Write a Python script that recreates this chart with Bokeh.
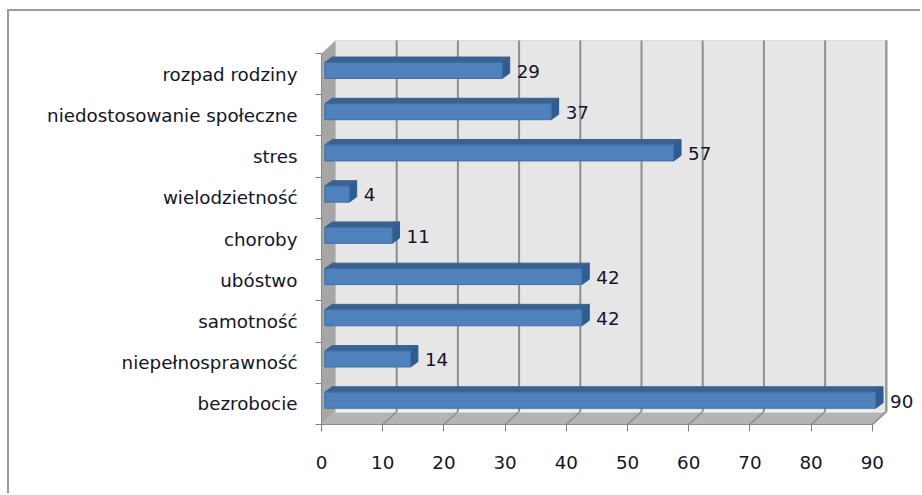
from bokeh.plotting import figure
from bokeh.embed import file_html
from bokeh.resources import INLINE
from bokeh.core.properties import value
from bokeh.models import Range1d, FixedTicker

categories = ["bezrobocie", "niepełnosprawność", "samotność", "ubóstwo", "choroby",
              "wielodzietność", "stres", "niedostosowanie społeczne", "rozpad rodziny"]
values = [90, 14, 42, 42, 11, 4, 57, 37, 29]
x_ticks = [0, 10, 20, 30, 40, 50, 60, 70, 80, 90]

FONT = "DejaVu Sans"
SIZE = "18.3px"
TEXT = "#14142a"
n = len(categories)
xmax = x_ticks[-1]
# 3D look, in data units
wx, wy = 14 / 6.12, 13 / 41.2      # wall depth
ox, oy = 0.55, 0.09                # bar front offset
bx, by = 1.2, 0.13                 # bar depth
bh = 0.39                          # bar front height

p = figure(width=913, height=484, output_backend="svg", toolbar_location=None,
           x_range=Range1d(0, 98.2), y_range=Range1d(0, 9.85),
           min_border_left=312, min_border_right=0, min_border_top=7, min_border_bottom=71,
           background_fill_color="white", border_fill_color="white", outline_line_color=None,
           styles={"margin-left": "7px", "margin-top": "9px",
                   "border-left": "2px solid #9a9a9a", "border-top": "2px solid #9a9a9a"})
p.grid.visible = False

# walls and floor
p.patch([wx, xmax + wx, xmax + wx, wx], [wy, wy, n + wy, n + wy],
        fill_color="#e6e6e6", line_color="#dcdcdc", line_width=1)
p.patch([0, xmax, xmax + wx, wx], [0, 0, wy, wy], fill_color="#b4b4b4", line_color=None)
p.patch([0, wx, wx, 0], [0, wy, n + wy, n], fill_color="#a6a6a6", line_color=None)
p.segment([wx], [wy], [xmax + wx], [wy], line_color="#f2f2f2", line_width=2)

# grid lines on the back wall and the floor
tx = [t + wx for t in x_ticks[1:]]
p.segment(tx, [wy] * len(tx), tx, [n + wy] * len(tx), line_color="#8e8e8e", line_width=2)
p.segment(x_ticks[1:], [0] * len(tx), tx, [wy] * len(tx), line_color="#8e8e8e", line_width=1.5)
p.segment([xmax, xmax + wx], [0, wy], [xmax + wx, xmax + wx], [wy, n + wy],
          line_color="#9a9a9a", line_width=2)

# bars
centres = [i + 0.5 for i in range(n)]
for c, v in zip(centres, values):
    x0, x1 = ox, v + ox
    y0, y1 = c + oy - bh / 2, c + oy + bh / 2
    p.patch([x0, x1, x1 + bx, x0 + bx], [y1, y1, y1 + by, y1 + by],
            fill_color="#3a6291", line_color="#3a6291", line_width=1)
    p.patch([x1, x1 + bx, x1 + bx, x1], [y0, y0 + by, y1 + by, y1],
            fill_color="#2f5c91", line_color="#2f5c91", line_width=1)
    p.quad(left=x0, right=x1, bottom=y0, top=y1,
           fill_color="#4f81bd", line_color="#3f6ea6", line_width=1)

# value labels
p.text([v + ox + bx for v in values], [c + oy - 0.02 for c in centres], text=[str(v) for v in values],
       x_offset=7, text_baseline="middle", text_align="left",
       text_font=value(FONT), text_font_size=SIZE, text_font_style="normal", text_color=TEXT)

# axes
xa = p.xaxis[0]
xa.ticker = FixedTicker(ticks=x_ticks)
xa.bounds = (0, xmax)
xa.axis_line_color = "#8a8a8a"
xa.axis_line_width = 1
xa.major_tick_line_color = "#7f7f7f"
xa.major_tick_out = 7
xa.major_tick_in = 0
xa.minor_tick_line_color = None
xa.major_label_standoff = 24
xa.major_label_text_font = FONT
xa.major_label_text_font_size = SIZE
xa.major_label_text_color = TEXT

ya = p.yaxis[0]
ya.ticker = FixedTicker(ticks=centres, minor_ticks=list(range(n + 1)))
ya.major_label_overrides = {c: name for c, name in zip(centres, categories)}
ya.bounds = (0, n)
ya.axis_line_color = "#8a8a8a"
ya.major_tick_line_color = None
ya.major_tick_out = 0
ya.major_tick_in = 0
ya.minor_tick_line_color = "#7f7f7f"
ya.minor_tick_out = 6
ya.minor_tick_in = 0
ya.major_label_standoff = 18
ya.major_label_text_font = FONT
ya.major_label_text_font_size = SIZE
ya.major_label_text_color = TEXT

open("out.html", "w").write(file_html(p, INLINE))
